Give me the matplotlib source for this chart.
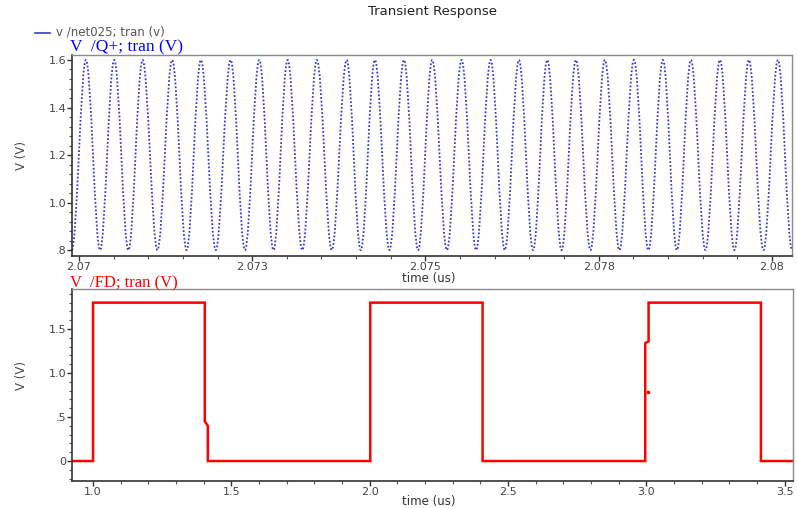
import matplotlib
matplotlib.use('Agg')
import matplotlib.pyplot as plt
from matplotlib.path import Path
from matplotlib.patches import PathPatch
from matplotlib.lines import Line2D
from matplotlib.ticker import MultipleLocator, FuncFormatter

# --- data ---
# V /Q+ : peak times (us) of the oscillation, peak / trough levels (V)
q_peak_times = [2.070101, 2.070509, 2.070919, 2.071346, 2.071760, 2.072189,
                2.072602, 2.073012, 2.073434, 2.073863, 2.074271, 2.074690,
                2.075098, 2.075522, 2.075941, 2.076349, 2.076758, 2.077172,
                2.077590, 2.078009, 2.078427, 2.078831, 2.079250, 2.079668,
                2.080087]
q_peak_v = 1.60
q_trough_v = 0.80

# V /FD : corner points of the trace (us, V)
fd_t = [0.924, 1.000, 1.000, 1.404, 1.404, 1.415, 1.415, 2.002, 2.002,
        2.408, 2.408, 2.996, 2.996, 3.008, 3.008, 3.414, 3.414, 3.530]
fd_v = [0.0, 0.0, 1.80, 1.80, 0.45, 0.40, 0.0, 0.0, 1.80,
        1.80, 0.0, 0.0, 1.34, 1.36, 1.80, 1.80, 0.0, 0.0]
fd_glitch = (3.007, 0.78)

top_xticks = [2.07, 2.0725, 2.075, 2.0775, 2.08]
top_xlabels = ['2.07', '2.073', '2.075', '2.078', '2.08']
top_yticks = [0.8, 1.0, 1.2, 1.4, 1.6]
top_ylabels = ['.8', '1.0', '1.2', '1.4', '1.6']
bot_xticks = [1.0, 1.5, 2.0, 2.5, 3.0, 3.5]
bot_yticks = [0.0, 0.5, 1.0, 1.5]
bot_ylabels = ['0', '.5', '1.0', '1.5']

W, H = 797, 508
fig = plt.figure(figsize=(W / 100, H / 100), dpi=100)


def px_axes(x0, y0, x1, y1):
    return fig.add_axes([x0 / W, 1 - y1 / H, (x1 - x0) / W, (y1 - y0) / H])


def style_axes(ax):
    for side in ['left', 'bottom']:
        ax.spines[side].set_color('#333333')
        ax.spines[side].set_linewidth(1.2)
    for side in ['top', 'right']:
        ax.spines[side].set_color('#8a8a8a')
        ax.spines[side].set_linewidth(1.0)
    ax.tick_params(which='major', direction='out', length=3.5, width=1,
                   color='#333333', labelcolor='#444444', labelsize=8, pad=0.5)
    ax.tick_params(which='minor', direction='out', length=2.2, width=0.8,
                   color='#555555')
    ax.tick_params(top=False, right=False, which='both')


# --- top panel ---
ax1 = px_axes(72, 55, 792, 256)
style_axes(ax1)
ax1.set_xlim(2.0699, 2.08029)
ax1.set_ylim(0.775, 1.621)

# extrema: trough, peak, trough, ... (troughs estimated half way between peaks)
half = (q_peak_times[1] - q_peak_times[0]) / 2
ext = [(q_peak_times[0] - half, q_trough_v)]
for i, tp in enumerate(q_peak_times):
    ext.append((tp, q_peak_v))
    nxt = q_peak_times[i + 1] if i + 1 < len(q_peak_times) else tp + 2 * half
    ext.append(((tp + nxt) / 2, q_trough_v))

# smooth bezier segments between extrema
a = 0.3642
verts = [ext[0]]
codes = [Path.MOVETO]
for (ta, va), (tb, vb) in zip(ext[:-1], ext[1:]):
    d = tb - ta
    verts += [(ta + a * d, va), (tb - a * d, vb), (tb, vb)]
    codes += [Path.CURVE4] * 3
ax1.add_patch(PathPatch(Path(verts, codes), fill=False, edgecolor='#3b3bd0',
                        lw=1.3, linestyle=(0, (1, 1.1))))

ax1.set_xticks(top_xticks)
ax1.set_xticklabels(top_xlabels)
ax1.xaxis.set_minor_locator(MultipleLocator(0.0005))
ax1.set_yticks(top_yticks)
ax1.set_yticklabels(top_ylabels)
ax1.yaxis.set_minor_locator(MultipleLocator(0.04))

# --- bottom panel ---
ax2 = px_axes(72, 289, 793, 481)
style_axes(ax2)
ax2.set_xlim(0.924, 3.53)
ax2.set_ylim(-0.227, 1.955)
ax2.plot(fd_t, fd_v, color='#ff0000', lw=1.8, solid_joinstyle='miter')
ax2.plot([fd_glitch[0]], [fd_glitch[1]], 's', color='#ff0000', ms=1.8)
ax2.set_xticks(bot_xticks)
ax2.xaxis.set_major_formatter(FuncFormatter(lambda v, p: '%.1f' % v))
ax2.xaxis.set_minor_locator(MultipleLocator(0.1))
ax2.set_yticks(bot_yticks)
ax2.set_yticklabels(bot_ylabels)
ax2.yaxis.set_minor_locator(MultipleLocator(0.1))


# --- texts ---
def ftext(x, y, s, **kw):
    fig.text(x / W, 1 - y / H, s, **kw)


ftext(432, 12, 'Transient Response', ha='center', va='center',
      fontsize=9.5, color='#222222')
fig.add_artist(Line2D([35 / W, 50 / W], [1 - 33 / H, 1 - 33 / H],
                      color='#3b3bd0', lw=1.2))
ftext(56, 32, 'v /net025; tran (v)', ha='left', va='center',
      fontsize=8.5, color='#555555')
ftext(70, 47, 'V  /Q+; tran (V)', ha='left', va='center',
      fontsize=12.5, color='#0000ff', family='Liberation Serif')
ftext(70, 283, 'V  /FD; tran (V)', ha='left', va='center',
      fontsize=12, color='#ff0000', family='Liberation Serif')
ftext(22, 155, 'V (V)', ha='center', va='center', rotation=90,
      fontsize=8.5, color='#444444')
ftext(22, 375, 'V (V)', ha='center', va='center', rotation=90,
      fontsize=8.5, color='#444444')
ftext(429, 278.5, 'time (us)', ha='center', va='center',
      fontsize=8.5, color='#333333')
ftext(429, 501, 'time (us)', ha='center', va='center',
      fontsize=8.5, color='#333333')

fig.savefig('out.png', dpi=100)
